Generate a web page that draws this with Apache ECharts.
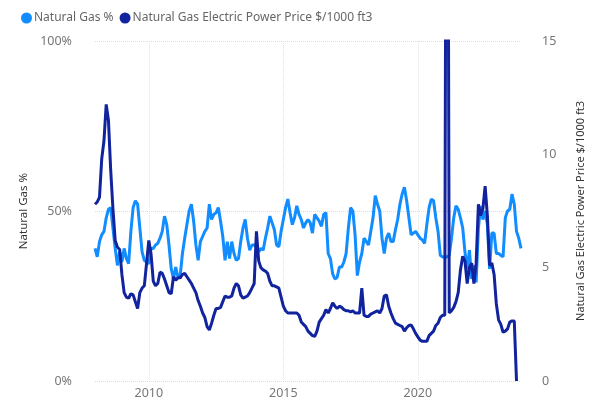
<!DOCTYPE html>
<html>
<head>
<meta charset="utf-8">
<script src="https://cdn.jsdelivr.net/npm/echarts@6/dist/echarts.min.js"></script>
<style>
  html, body { margin: 0; padding: 0; background: #fff; }
  #chart { width: 594px; height: 405px; }
</style>
</head>
<body>
<div id="chart"></div>
<script>
// monthly values, Jan 2008 onward
const startYear = 2008;
const gasShare = [
  39, 36.5, 41, 43, 44, 48, 50.5, 51, 45, 39, 34, 38,
  35, 39, 36, 34.5, 44, 51, 53, 52, 45, 38, 35.5, 35,
  34.5, 39, 39, 40, 40.5, 42, 44, 48.5, 46, 40, 33, 30,
  33.5, 30.5, 31, 37.5, 42, 46, 50, 52, 47, 40, 35.5, 41,
  42.5, 44, 45, 52, 47.5, 49, 49.5, 51, 47, 42.5, 35.5, 41,
  36, 41, 37.5, 35.5, 36, 41, 45, 47.5, 42, 38.5, 40, 40,
  39.5, 38, 39, 38.5, 42, 45, 48.5, 46.5, 44.5, 40, 39.5, 44,
  47.5, 51, 53.5, 49.5, 46, 48, 51.5, 49, 47.5, 45, 46.5, 47.5,
  46.5, 43.5, 49, 48, 47, 45.5, 49, 49.5, 37.5, 36, 31.5, 30,
  30.5, 33.5, 33.5, 35, 37.5, 45, 51, 50, 43, 31, 35, 37.5,
  42, 41, 40, 44, 48, 54.5, 52, 50, 42, 37.5, 42, 43.5,
  41, 41, 44.5, 47.5, 52, 55, 57, 53, 48, 43, 43.5, 44,
  43, 42, 41.5, 40.5, 46, 51, 53.5, 53, 48, 44, 37, 36.5,
  36.5, 36.5, 37, 42, 48, 51.5, 50.5, 48, 45, 38, 33, 38.5,
  30, 34, 29, 45, 51.5, 47.5, 50, 46, 33, 43.5, 43.5, 37.5,
  37.5, 37, 36.5, 48, 50, 50.5, 55, 52, 44, 42, 39
];
const gasPrice = [
  7.8, 7.9, 8.1, 9.8, 10.6, 12.2, 11.5, 9.3, 7.6, 6.2, 5.9, 5.8,
  4.7, 3.9, 3.7, 3.65, 3.85, 3.8, 3.5, 3.2, 3.9, 4.1, 4.2, 5.2,
  6.2, 5.6, 4.4, 4.2, 4.3, 4.8, 4.75, 4.5, 4.2, 3.9, 3.85, 4.6,
  4.45, 4.55, 4.55, 4.7, 4.75, 4.6, 4.45, 4.3, 4.1, 3.9, 3.55, 3.3,
  3.0, 2.8, 2.4, 2.25, 2.55, 2.9, 3.2, 3.2, 3.25, 3.5, 3.75, 3.7,
  3.7, 3.75, 4.1, 4.3, 4.2, 3.8, 3.65, 3.7, 3.75, 3.9, 4.1, 4.3,
  6.6, 5.3, 5.0, 4.9, 4.85, 4.75, 4.4, 4.2, 4.2, 4.15, 4.1, 3.7,
  3.3, 3.1, 3.0, 3.0, 3.0, 3.0, 3.0, 2.9, 2.6, 2.5, 2.4, 2.2,
  2.1, 2.0, 1.97, 2.2, 2.6, 2.75, 2.9, 3.15, 3.0, 3.2, 3.45, 3.3,
  3.2, 3.3, 3.25, 3.15, 3.1, 3.1, 3.05, 3.1, 3.0, 3.0, 3.0, 4.1,
  2.9, 2.85, 2.85, 2.95, 3.0, 3.05, 3.1, 3.0, 3.2, 3.75, 3.8, 3.3,
  3.0, 2.75, 2.55, 2.5, 2.45, 2.4, 2.2, 2.35, 2.45, 2.47, 2.3, 2.1,
  1.95, 1.8, 1.75, 1.75, 1.75, 2.0, 2.1, 2.2, 2.45, 2.55, 2.8, 2.9,
  2.9, 40, 3.0, 3.1, 3.25, 3.5, 3.9, 4.9, 5.5, 5.3, 4.3, 5.0,
  5.2, 4.3, 5.2, 7.8, 7.3, 7.6, 8.6, 7.3, 5.1, 5.2, 4.7, 3.4,
  2.7, 2.5, 2.15, 2.2, 2.3, 2.6, 2.65, 2.65, 0
];
const yearTicks = ["2010", "2015", "2020"];

let months = [];
for (let i = 0; i < gasShare.length; i++) {
  let y = startYear + Math.floor(i / 12);
  let m = (i % 12) + 1;
  months.push(y + "-" + (m < 10 ? "0" + m : m));
}
function isYearTick(index) {
  let v = months[index];
  return v.slice(5) === "01" && yearTicks.indexOf(v.slice(0, 4)) >= 0;
}

let myChart = echarts.init(document.getElementById("chart"));
let option = {
  textStyle: { fontFamily: "Noto Sans" },
  color: ["#118DFF", "#12239E"],
  legend: {
    left: 16,
    top: 7,
    icon: "circle",
    itemWidth: 11,
    itemHeight: 11,
    itemGap: 6,
    textStyle: { color: "#666", fontSize: 12, padding: [0, 0, 0, -3] },
    data: ["Natural Gas %", "Natural Gas Electric Power Price $/1000 ft3"],
  },
  grid: { left: 95, right: 67, top: 41, bottom: 24 },
  xAxis: {
    type: "category",
    data: months,
    boundaryGap: false,
    axisLine: { show: false },
    axisTick: { show: false },
    axisLabel: {
      interval: function (index) { return isYearTick(index); },
      formatter: function (v) { return v.slice(0, 4); },
      color: "#777",
      fontSize: 12.5,
      margin: 6,
    },
    splitLine: {
      show: true,
      interval: function (index) { return isYearTick(index); },
      lineStyle: { color: "#e4e4e4", type: "dotted" },
    },
  },
  yAxis: [
    {
      type: "value",
      min: 0,
      max: 100,
      interval: 50,
      name: "Natural Gas %",
      nameLocation: "middle",
      nameGap: 56,
      nameTextStyle: { color: "#333", fontSize: 11.5 },
      axisLabel: { formatter: "{value}%", color: "#777", fontSize: 12.5, margin: 23 },
      splitLine: { lineStyle: { color: "#dcdcdc", type: "dotted" } },
    },
    {
      type: "value",
      min: 0,
      max: 15,
      interval: 5,
      name: "Natural Gas Electric Power Price $/1000 ft3",
      nameLocation: "middle",
      nameGap: 54,
      nameTextStyle: { color: "#333", fontSize: 11 },
      axisLabel: { color: "#777", fontSize: 12.5, margin: 21 },
      splitLine: { show: false },
    },
  ],
  series: [
    {
      name: "Natural Gas %",
      type: "line",
      yAxisIndex: 0,
      data: gasShare,
      symbol: "none",
      lineStyle: { width: 3 },
    },
    {
      name: "Natural Gas Electric Power Price $/1000 ft3",
      type: "line",
      yAxisIndex: 1,
      data: gasPrice,
      symbol: "none",
      lineStyle: { width: 3 },
    },
  ],
};
myChart.setOption(option);
</script>
</body>
</html>
